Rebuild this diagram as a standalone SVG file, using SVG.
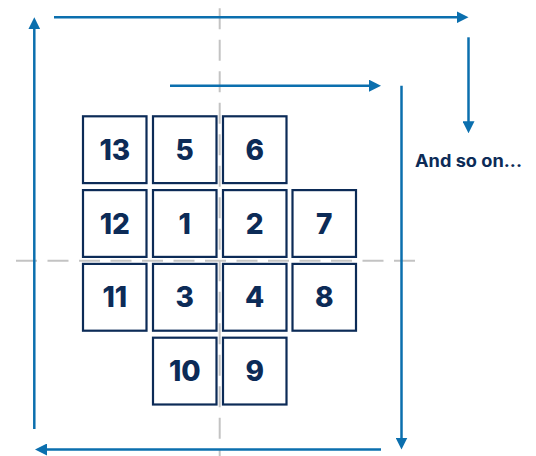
<svg xmlns="http://www.w3.org/2000/svg" width="536" height="456" viewBox="0 0 536 456">
<style>
.grid{stroke:#c3c3c3;stroke-width:2;stroke-dasharray:21 10.5;fill:none}
.arr{stroke:#0b6fae;stroke-width:2.5;fill:none}
.box rect{fill:#fff;stroke:#0c2b57;stroke-width:2.2}
.box text{font-family:Inter,"Open Sans",sans-serif;font-weight:800;font-size:28px;fill:#0c2b57;text-anchor:middle}
.note{font-family:Inter,"Open Sans",sans-serif;font-weight:700;font-size:17px;fill:#0c2b57}
</style>
<defs>
<marker id="ah" viewBox="0 0 12 12" refX="6" refY="6" markerWidth="12" markerHeight="12" markerUnits="userSpaceOnUse" orient="auto">
<path d="M0,0 L12,6 L0,12 Z" fill="#0b6fae"/>
</marker>
</defs>
<g id="guides">
<line class="grid" x1="219.7" y1="8.3" x2="219.7" y2="456"/>
<line class="grid" x1="16" y1="260.7" x2="416" y2="260.7"/>
</g>
<g id="n13" class="box"><rect x="83" y="116.3" width="63.5" height="66.8"/><text x="114.75" y="159.7">13</text></g>
<g id="n5" class="box"><rect x="153" y="116.3" width="63.5" height="66.8"/><text x="184.75" y="159.7">5</text></g>
<g id="n6" class="box"><rect x="223" y="116.3" width="63.5" height="66.8"/><text x="254.75" y="159.7">6</text></g>
<g id="n12" class="box"><rect x="83" y="190.1" width="63.5" height="66.8"/><text x="114.75" y="233.5">12</text></g>
<g id="n1" class="box"><rect x="153" y="190.1" width="63.5" height="66.8"/><text x="184.75" y="233.5">1</text></g>
<g id="n2" class="box"><rect x="223" y="190.1" width="63.5" height="66.8"/><text x="254.75" y="233.5">2</text></g>
<g id="n7" class="box"><rect x="292.5" y="190.1" width="63.5" height="66.8"/><text x="324.25" y="233.5">7</text></g>
<g id="n11" class="box"><rect x="83" y="263.9" width="63.5" height="66.8"/><text x="114.75" y="307.3">11</text></g>
<g id="n3" class="box"><rect x="153" y="263.9" width="63.5" height="66.8"/><text x="184.75" y="307.3">3</text></g>
<g id="n4" class="box"><rect x="223" y="263.9" width="63.5" height="66.8"/><text x="254.75" y="307.3">4</text></g>
<g id="n8" class="box"><rect x="292.5" y="263.9" width="63.5" height="66.8"/><text x="324.25" y="307.3">8</text></g>
<g id="n10" class="box"><rect x="153" y="337.7" width="63.5" height="66.8"/><text x="184.75" y="381.1">10</text></g>
<g id="n9" class="box"><rect x="223" y="337.7" width="63.5" height="66.8"/><text x="254.75" y="381.1">9</text></g>
<g id="connectors">
<line class="arr" x1="34.3" y1="429" x2="34.3" y2="23.3" marker-end="url(#ah)"/>
<line class="arr" x1="54" y1="17.3" x2="462.5" y2="17.3" marker-end="url(#ah)"/>
<line class="arr" x1="468.5" y1="37.3" x2="468.5" y2="127.3" marker-end="url(#ah)"/>
<line class="arr" x1="170" y1="85.7" x2="375" y2="85.7" marker-end="url(#ah)"/>
<line class="arr" x1="401.5" y1="85.7" x2="401.5" y2="443.5" marker-end="url(#ah)"/>
<line class="arr" x1="381" y1="449.5" x2="41" y2="449.5" marker-end="url(#ah)"/>
</g>
<text id="note" class="note" x="415" y="167" textLength="107" lengthAdjust="spacingAndGlyphs">And so on...</text>
</svg>
